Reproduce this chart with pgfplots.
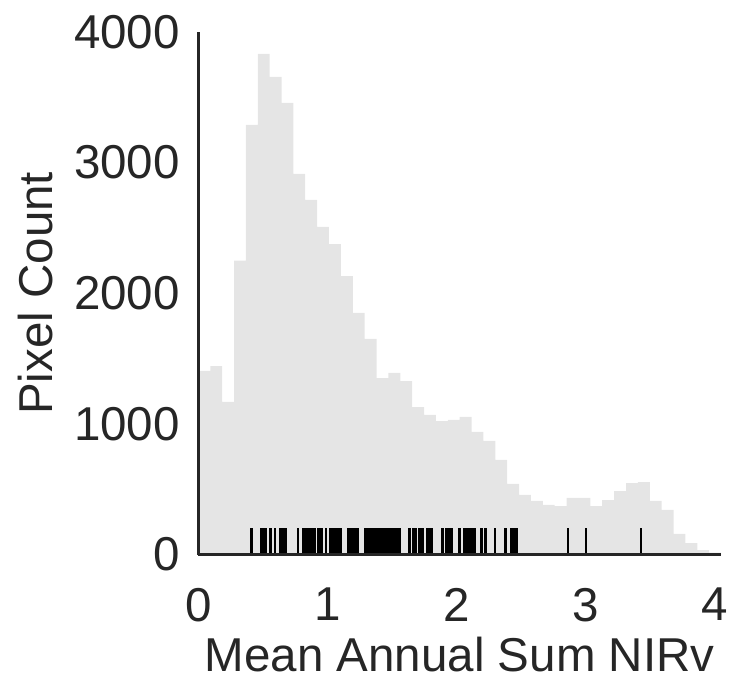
\documentclass[border=0pt]{standalone}
\usepackage{pgfplots}
\pgfplotsset{compat=1.18}
\usepackage{fontspec}
\setmainfont{Liberation Sans}
\definecolor{c15}{RGB}{38,38,38}
\definecolor{barfill}{RGB}{229,229,229}
\newcommand{\bigfont}{\fontsize{47.5bp}{57bp}\selectfont}
\begin{document}
\begin{tikzpicture}
\useasboundingbox (0,0) rectangle (733bp,680bp);
\begin{axis}[
  at={(198.4bp,125.5bp)}, anchor=south west,
  scale only axis, width=522.6bp, height=522.5bp,
  xmin=0, xmax=4.05, ymin=0, ymax=4000,
  axis x line*=bottom, axis y line*=left,
  axis line style={-, draw=c15, line width=2.6bp},
  axis on top,
  major tick length=0pt,
  xtick={0,1,2,3,4}, xticklabels={0,1,2,3,4},
  ytick={0,1000,2000,3000,4000}, yticklabels={0,1000,2000,3000,4000},
  xticklabel style={anchor=north, inner sep=0pt, yshift=-33.5bp, font=\bigfont, text=c15},
  yticklabel style={anchor=east, inner sep=0pt, xshift=-18.4bp, font=\bigfont, text=c15},
  xlabel={Mean Annual Sum NIRv},
  ylabel={Pixel Count},
  xlabel style={at={(axis description cs:0.5,0)}, anchor=center, inner sep=0pt, yshift=-100.5bp, font=\bigfont, text=c15},
  ylabel style={at={(axis description cs:0,0.5)}, anchor=center, inner sep=0pt, yshift=163bp, font=\bigfont, text=c15},
  clip=false,
]
\addplot[ybar interval, fill=barfill, draw=none] coordinates {
(0.000,1405) (0.092,1443) (0.184,1168) (0.276,2250) (0.368,3289)
(0.460,3832) (0.552,3656) (0.644,3457) (0.736,2913) (0.828,2714)
(0.920,2508) (1.012,2377) (1.105,2132) (1.197,1849) (1.289,1650)
(1.381,1351) (1.473,1390) (1.565,1328) (1.657,1129) (1.749,1068)
(1.841,1022) (1.933,1030) (2.025,1053) (2.117,938) (2.209,869)
(2.301,724) (2.393,540) (2.485,456) (2.577,410) (2.669,379)
(2.761,371) (2.853,433) (2.945,433) (3.037,371) (3.129,417)
(3.221,486) (3.314,547) (3.406,555) (3.498,410) (3.590,341)
(3.682,157) (3.774,88) (3.866,34) (3.958,15) (4.050,15)
};
\addplot[ycomb, black, line width=2.6bp] coordinates {
(0.410,200) (0.489,200) (0.500,200) (0.511,200) (0.522,200) (0.559,200) (0.594,200)
(0.633,200) (0.645,200) (0.656,200) (0.675,200) (0.772,200)
(0.815,200) (0.827,200) (0.839,200) (0.851,200) (0.863,200) (0.875,200)
(0.893,200) (0.905,200) (0.927,200) (0.940,200) (0.952,200) (0.989,200)
(1.020,200) (1.032,200) (1.044,200) (1.056,200) (1.068,200) (1.080,200) (1.092,200) (1.100,200)
(1.163,200) (1.176,200) (1.188,200) (1.200,200) (1.212,200) (1.224,200) (1.236,200)
(1.295,200) (1.306,200) (1.326,200) (1.336,200)
(1.356,200) (1.368,200) (1.380,200) (1.392,200) (1.404,200) (1.416,200) (1.428,200)
(1.440,200) (1.452,200) (1.464,200) (1.476,200) (1.488,200) (1.500,200) (1.512,200)
(1.524,200) (1.536,200) (1.548,200) (1.558,200)
(1.636,200) (1.665,200) (1.686,200) (1.712,200) (1.724,200) (1.736,200)
(1.775,200) (1.787,200) (1.799,200) (1.811,200)
(1.891,200) (1.918,200) (1.930,200) (1.942,200) (1.954,200) (1.963,200)
(2.023,200) (2.062,200) (2.074,200) (2.086,200) (2.096,200)
(2.118,200) (2.130,200) (2.142,200) (2.196,200) (2.224,200) (2.300,200) (2.382,200)
(2.422,200) (2.440,200) (2.452,200) (2.464,200) (2.863,200) (3.003,200) (3.429,200)
};
\end{axis}
\end{tikzpicture}
\end{document}
